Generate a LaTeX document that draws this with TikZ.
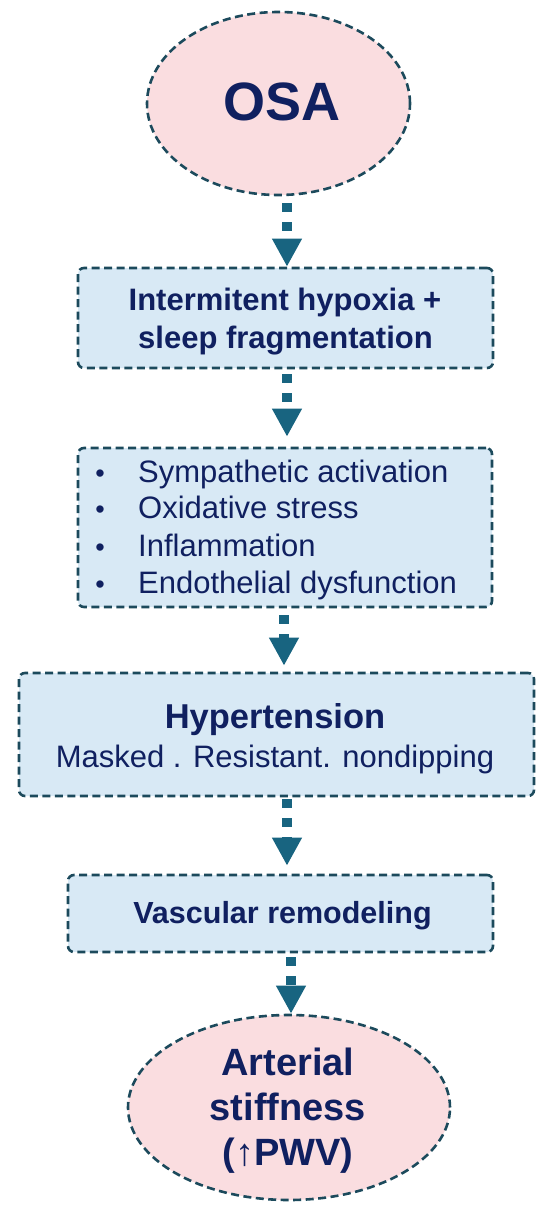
\documentclass[tikz,border=0pt]{standalone}
\usepackage{fontspec}
\setmainfont{Liberation Sans}
\usetikzlibrary{arrows.meta,shapes.geometric,calc}
\definecolor{navy}{RGB}{16,32,96}
\definecolor{outl}{RGB}{28,74,92}
\definecolor{arrowc}{RGB}{24,100,128}
\definecolor{boxfill}{RGB}{216,233,245}
\definecolor{pinkfill}{RGB}{250,221,224}
\newcommand{\fs}[2]{\fontsize{#1}{#2}\selectfont}
\tikzset{
  dashline/.style={draw=outl,line width=2.6pt,dash pattern=on 8pt off 4.5pt},
  boxnode/.style={dashline,rectangle,rounded corners=6pt,fill=boxfill,inner sep=0pt},
  ovalnode/.style={dashline,ellipse,fill=pinkfill,inner sep=0pt},
  txt/.style={text=navy,inner sep=0pt,anchor=base},
  flow/.style={draw=arrowc,line width=10pt,dash pattern=on 9pt off 10pt,
    -{Triangle[width=28pt,length=28pt]},color=arrowc},
}
\begin{document}
\begin{tikzpicture}[x=1pt,y=-1pt]
\useasboundingbox (0,0) rectangle (550,1215);
% shapes
\node[ovalnode,minimum width=263pt,minimum height=183pt] (osa) at (278.5,103.5) {};
\node[boxnode,minimum width=415pt,minimum height=100pt] (b1) at (285.5,318) {};
\node[boxnode,minimum width=414pt,minimum height=159pt] (b2) at (285,527.5) {};
\node[boxnode,minimum width=515pt,minimum height=123pt] (b3) at (276.5,734.5) {};
\node[boxnode,minimum width=425pt,minimum height=77pt] (b4) at (280.5,913.5) {};
\node[ovalnode,minimum width=322pt,minimum height=185pt] (as) at (289,1107.5) {};
% texts
\node[txt] (tosa) at (282,120) {\fs{54}{60}\bfseries OSA};
\node[txt] (t1a) at (285,310) {\fs{31}{38}\bfseries Intermitent hypoxia +};
\node[txt] (t1b) at (285.5,348) {\fs{31}{38}\bfseries sleep fragmentation};
\foreach \yy/\tt [count=\i] in {482/Sympathetic activation,518/Oxidative stress,556/Inflammation,593/Endothelial dysfunction}{
  \node[txt] (bul\i) at (100,\yy) {\fs{27}{30}\textbullet};
  \node[txt,anchor=base west] (t2\i) at (138,\yy) {\fs{31}{37}\tt};
}
\node[txt] (t3a) at (275,728) {\fs{34.5}{40}\bfseries Hypertension};
\node[txt] (t3b) at (275,767) {\fs{31}{37}Masked . Resistant. nondipping};
\node[txt] (t4) at (282.5,923) {\fs{30.5}{36}\bfseries Vascular remodeling};
\node[txt] (t5a) at (288,1075) {\fs{38}{45}\bfseries Arterial};
\node[txt] (t5b) at (288,1120) {\fs{38}{45}\bfseries stiffness};
\node[txt] (t5c) at (288,1165) {\fs{38}{45}\bfseries (↑PWV)};
% arrow columns
\coordinate (c1) at (287,0);
\coordinate (c2) at (287,0);
\coordinate (c3) at (284,0);
\coordinate (c4) at (287,0);
\coordinate (c5) at (291,0);
\draw[flow,dash phase=12pt] (osa.south -| c1) -- (b1.north -| c1);
\draw[flow,dash phase=14pt,shorten >=10pt] (b1.south -| c2) -- (b2.north -| c2);
\draw[flow,dash phase=0pt,shorten >=6pt] ([yshift=-7pt]b2.south -| c3) -- (b3.north -| c3);
\draw[flow,dash phase=17pt,shorten >=8pt] (b3.south -| c4) -- (b4.north -| c4);
\draw[flow,dash phase=0pt] ([yshift=-4pt]b4.south -| c5) -- (as.north -| c5);
\end{tikzpicture}
\end{document}
